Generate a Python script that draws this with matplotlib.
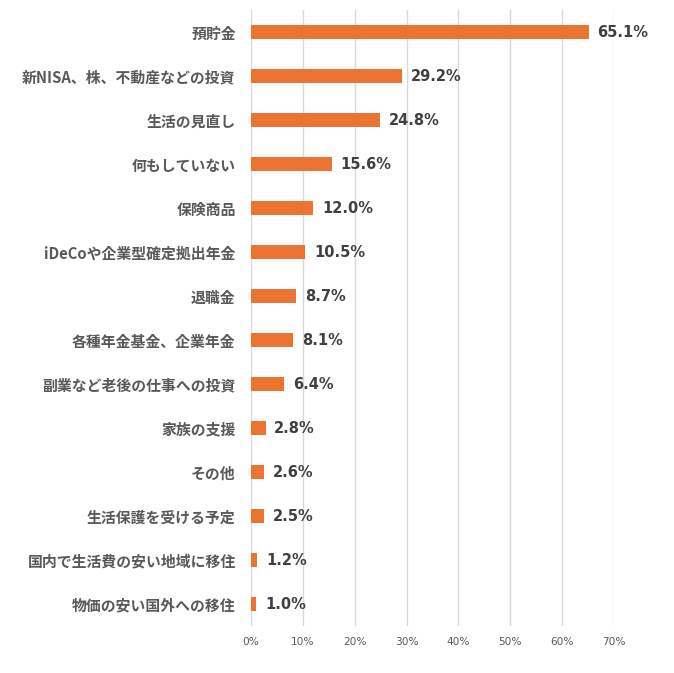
import numpy as np
import matplotlib
matplotlib.use("Agg")
import matplotlib.pyplot as plt

plt.rcParams['font.family'] = ['Noto Sans CJK JP', 'DejaVu Sans']

# data (percent)
categories = ["預貯金", "新NISA、株、不動産などの投資", "生活の見直し", "何もしていない",
              "保険商品", "iDeCoや企業型確定拠出年金", "退職金", "各種年金基金、企業年金",
              "副業など老後の仕事への投資", "家族の支援", "その他", "生活保護を受ける予定",
              "国内で生活費の安い地域に移住", "物価の安い国外への移住"]
values = [65.1, 29.2, 24.8, 15.6, 12.0, 10.5, 8.7, 8.1, 6.4, 2.8, 2.6, 2.5, 1.2, 1.0]
xticks = [0, 10, 20, 30, 40, 50, 60, 70]

fig = plt.figure(figsize=(6.74, 6.73), dpi=100)
ax = fig.add_axes([251/674, 1-626/673, 363/674, 616/673])

y = np.arange(len(categories))
ax.barh(y, values, height=0.34, color='#EC7432', zorder=3)
ax.set_ylim(len(categories)-0.5, -0.5)
ax.set_xlim(0, 70)

for yi, v in zip(y, values):
    ax.text(v + 1.7, yi, f"{v:.1f}%", va='center', ha='left', family='DejaVu Sans',
            fontsize=10.5, fontweight='bold', color='#404040')

ax.set_yticks(y)
ax.set_yticklabels(categories, fontsize=10.7, fontweight='bold', color='#595959')
ax.set_xticks(xticks)
ax.set_xticklabels([f"{t}%" for t in xticks], fontsize=7.6, color='#595959',
                   family='DejaVu Sans')
ax.tick_params(axis='y', length=0, pad=11)
ax.tick_params(axis='x', length=0, pad=8)

ax.xaxis.grid(True, color='#d9d9d9', linewidth=1, zorder=0)
for s in ax.spines.values():
    s.set_visible(False)

fig.savefig("out.png", dpi=100)
